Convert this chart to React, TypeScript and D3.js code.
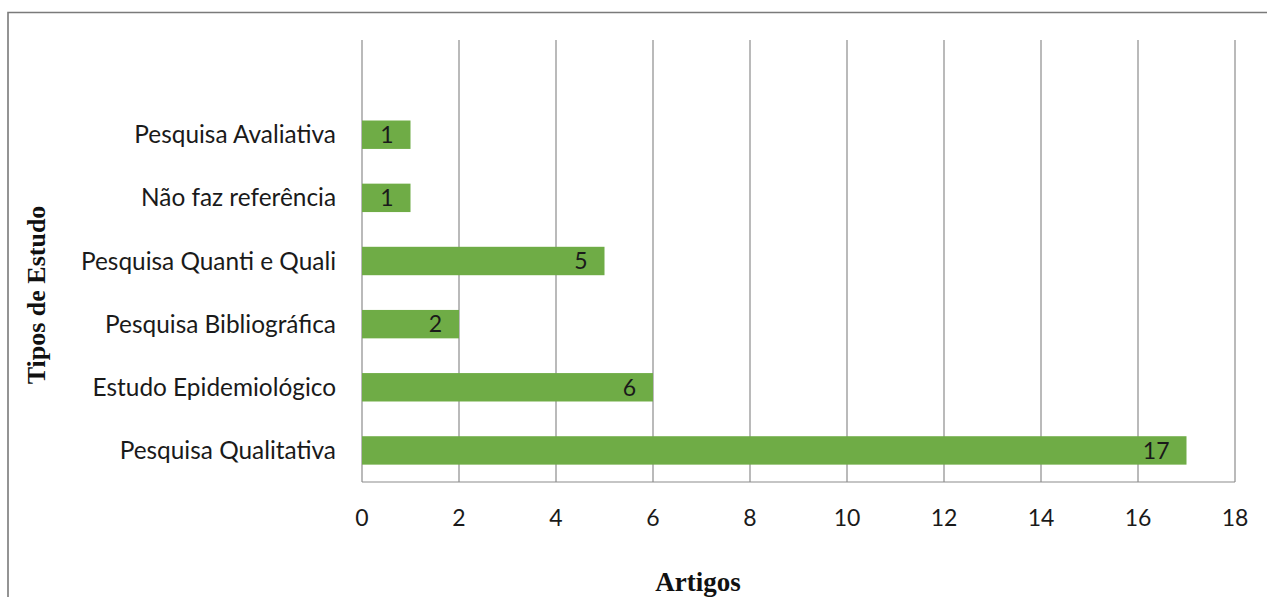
import React, { useEffect, useRef } from "react";
import * as d3 from "d3";

// Study types, listed from top to bottom as they appear on the chart
const categories: string[] = [
  "Pesquisa Avaliativa",
  "Não faz referência",
  "Pesquisa Quanti e Quali",
  "Pesquisa Bibliográfica",
  "Estudo Epidemiológico",
  "Pesquisa Qualitativa",
];
// Number of articles per study type
const articleCounts: number[] = [1, 1, 5, 2, 6, 17];
// Horizontal axis ticks
const xTicks: number[] = [0, 2, 4, 6, 8, 10, 12, 14, 16, 18];

const xTitle = "Artigos";
const yTitle = "Tipos de Estudo";

const W = 1267;
const H = 597;
const plot = { left: 362, right: 1235, top: 40, bottom: 482 };
const barColor = "#6FAC46";
const gridColor = "#8C8C8C";
const sansFont = "Lato, 'Open Sans', sans-serif";
const serifFont = "'Liberation Serif', 'Times New Roman', serif";

export default function App() {
  const ref = useRef<SVGSVGElement | null>(null);

  useEffect(() => {
    const svg = d3.select(ref.current);
    svg.selectAll("*").remove();

    svg.append("rect").attr("width", W).attr("height", H).attr("fill", "#ffffff");

    // Outer chart border (left and top edges visible)
    svg
      .append("path")
      .attr("d", `M8,${H} V12.5 H${W}`)
      .attr("fill", "none")
      .attr("stroke", "#7a7a7a")
      .attr("stroke-width", 1.6);

    const x = d3.scaleLinear().domain([0, 18]).range([plot.left, plot.right]);

    // One empty slot is kept above the first category
    const slot = (plot.bottom - plot.top) / (categories.length + 1);
    const y = d3
      .scaleBand<string>()
      .domain(categories)
      .range([plot.top + slot, plot.bottom])
      .paddingInner(0.55)
      .paddingOuter(0.275);

    // Vertical gridlines
    svg
      .append("g")
      .selectAll("line")
      .data(xTicks)
      .join("line")
      .attr("x1", (d) => x(d))
      .attr("x2", (d) => x(d))
      .attr("y1", plot.top)
      .attr("y2", plot.bottom)
      .attr("stroke", gridColor)
      .attr("stroke-width", 1.2);

    // Bottom axis line
    svg
      .append("line")
      .attr("x1", plot.left)
      .attr("x2", plot.right)
      .attr("y1", plot.bottom)
      .attr("y2", plot.bottom)
      .attr("stroke", gridColor)
      .attr("stroke-width", 1.2);

    // Bars
    const rows = categories.map((c, i) => ({ c, v: articleCounts[i] }));
    svg
      .append("g")
      .selectAll("rect")
      .data(rows)
      .join("rect")
      .attr("x", x(0))
      .attr("y", (d) => y(d.c)!)
      .attr("width", (d) => x(d.v) - x(0))
      .attr("height", y.bandwidth())
      .attr("fill", barColor);

    // Value labels, inside the bar end
    svg
      .append("g")
      .selectAll("text")
      .data(rows)
      .join("text")
      .attr("x", (d) => x(d.v) - 17)
      .attr("y", (d) => y(d.c)! + y.bandwidth() / 2 + 8.3)
      .attr("text-anchor", "end")
      .attr("font-family", sansFont)
      .attr("font-size", 23)
      .attr("fill", "#1a1a1a")
      .text((d) => d.v);

    // Category labels
    svg
      .append("g")
      .selectAll("text")
      .data(categories)
      .join("text")
      .attr("x", plot.left - 26)
      .attr("y", (d) => y(d)! + y.bandwidth() / 2 + 8.6)
      .attr("text-anchor", "end")
      .attr("font-family", sansFont)
      .attr("font-size", 24.4)
      .attr("fill", "#1a1a1a")
      .text((d) => d);

    // Tick labels
    svg
      .append("g")
      .selectAll("text")
      .data(xTicks)
      .join("text")
      .attr("x", (d) => x(d))
      .attr("y", 526)
      .attr("text-anchor", "middle")
      .attr("font-family", sansFont)
      .attr("font-size", 23)
      .attr("fill", "#1a1a1a")
      .text((d) => d);

    // Axis titles
    svg
      .append("text")
      .attr("x", 698)
      .attr("y", 591)
      .attr("text-anchor", "middle")
      .attr("font-family", serifFont)
      .attr("font-weight", "bold")
      .attr("font-size", 27)
      .attr("fill", "#111")
      .text(xTitle);

    svg
      .append("text")
      .attr("transform", `translate(45,${295}) rotate(-90)`)
      .attr("text-anchor", "middle")
      .attr("font-family", serifFont)
      .attr("font-weight", "bold")
      .attr("font-size", 26)
      .attr("fill", "#111")
      .text(yTitle);
  }, []);

  return (
    <svg
      ref={ref}
      width={W}
      height={H}
      style={{ position: "absolute", left: 0, top: 0, display: "block" }}
    />
  );
}
